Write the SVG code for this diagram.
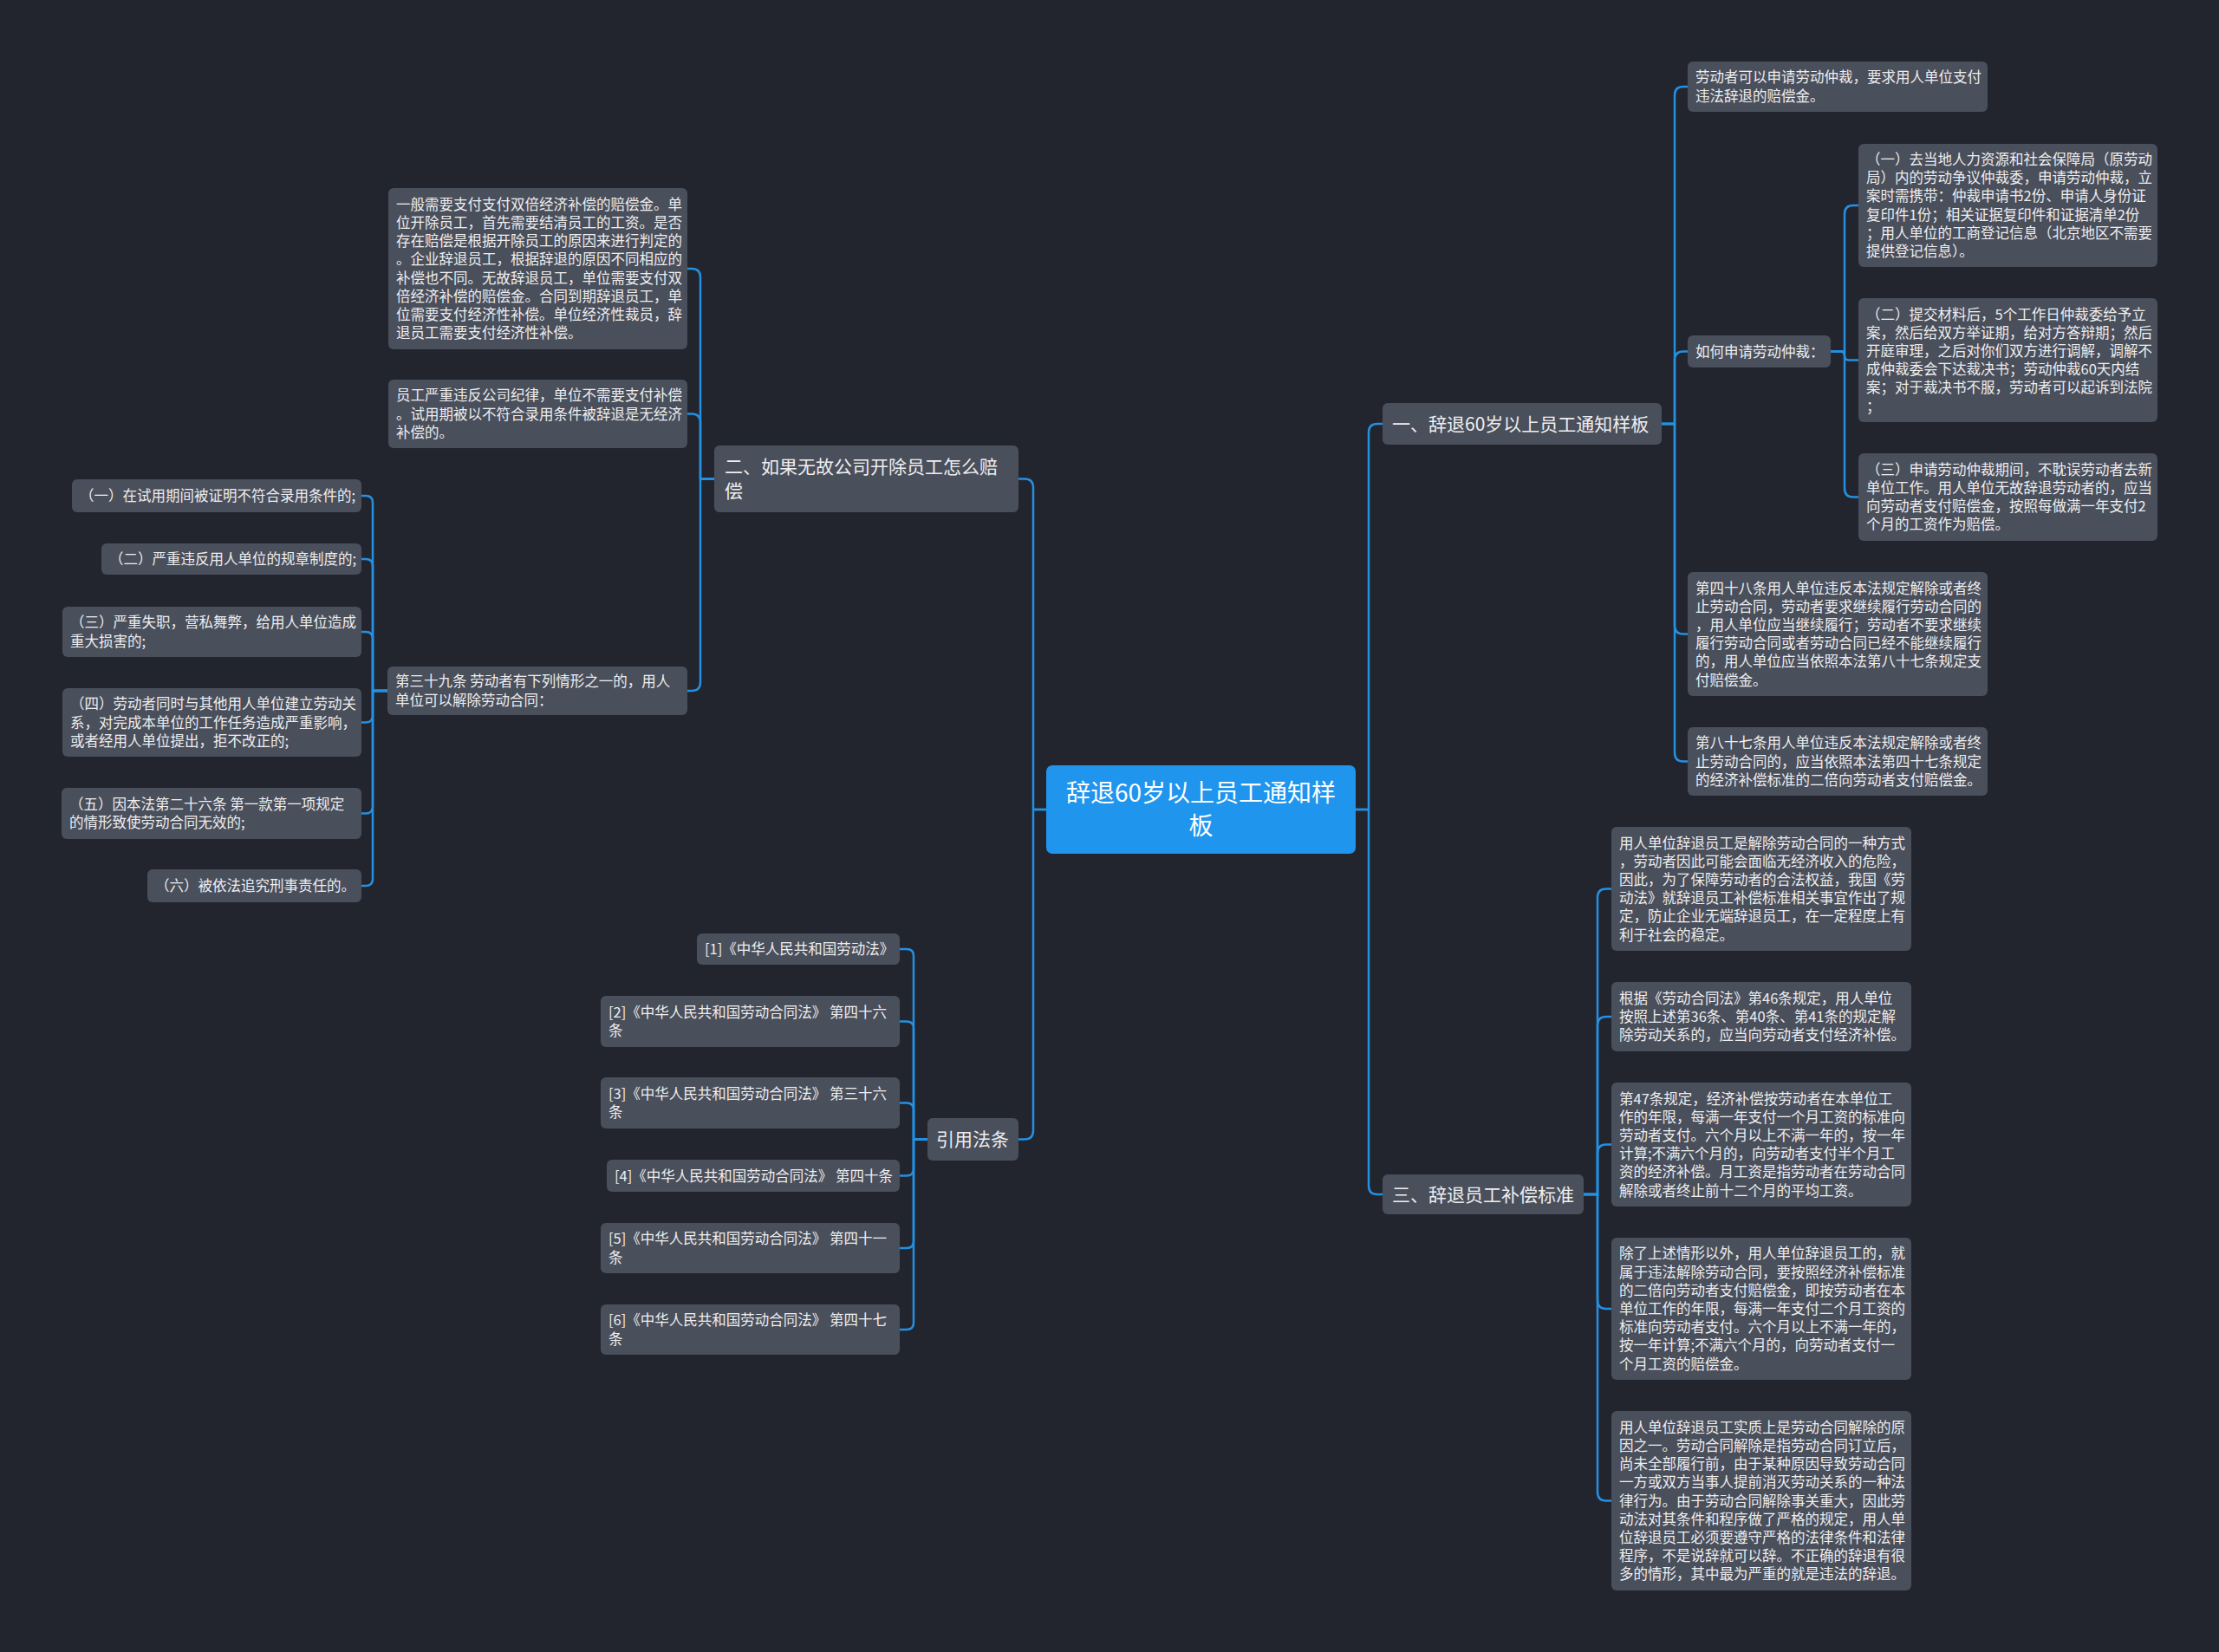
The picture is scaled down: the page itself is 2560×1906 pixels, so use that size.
<svg xmlns="http://www.w3.org/2000/svg" width="2560" height="1906" viewBox="0 0 2560 1906">
<style>
.bg{fill:#22252e}
.n{fill:#4a4f5c}
.c{fill:#1f95ee}
.t{fill:#eeeeee;font-family:"Noto Sans CJK SC","Noto Sans",sans-serif;font-size:16.5px}
.b{fill:#eeeeee;font-family:"Noto Sans CJK SC","Noto Sans",sans-serif;font-size:21px}
.ct{fill:#ffffff;font-family:"Noto Sans CJK SC","Noto Sans",sans-serif;font-size:28px;text-anchor:middle}
.ln{fill:none;stroke:#2490e2;stroke-width:2.5;stroke-linecap:round;stroke-linejoin:round}
</style>
<rect class="bg" x="0" y="0" width="2560" height="1906"/>
<g id="connectors" class="ln">
<path d="M1564,934 H1579 V499 Q1579,489 1589,489 H1595"/>
<path d="M1564,934 H1579 V1368 Q1579,1378 1589,1378 H1595"/>
<path d="M1207,934 H1192 V562.5 Q1192,552.5 1182,552.5 H1175"/>
<path d="M1207,934 H1192 V1304.5 Q1192,1314.5 1182,1314.5 H1175"/>
<path d="M1917,489 H1932 V110 Q1932,100 1942,100 H1947"/>
<path d="M1917,489 H1932 V415.5 Q1932,405.5 1942,405.5 H1947"/>
<path d="M1917,489 H1932 V721.5 Q1932,731.5 1942,731.5 H1947"/>
<path d="M1917,489 H1932 V868.5 Q1932,878.5 1942,878.5 H1947"/>
<path d="M2112,405.5 H2128 V247 Q2128,237 2138,237 H2144"/>
<path d="M2112,405.5 H2123 Q2128,405.5 2128,410.5 Q2128,415.5 2133,415.5 H2144"/>
<path d="M2112,405.5 H2128 V563.5 Q2128,573.5 2138,573.5 H2144"/>
<path d="M1827,1378 H1843 V1035.5 Q1843,1025.5 1853,1025.5 H1859"/>
<path d="M1827,1378 H1843 V1183 Q1843,1173 1853,1173 H1859"/>
<path d="M1827,1378 H1843 V1330.5 Q1843,1320.5 1853,1320.5 H1859"/>
<path d="M1827,1378 H1843 V1500 Q1843,1510 1853,1510 H1859"/>
<path d="M1827,1378 H1843 V1721.5 Q1843,1731.5 1853,1731.5 H1859"/>
<path d="M824,552.5 H808 V320 Q808,310 798,310 H793"/>
<path d="M824,552.5 H808 V487.5 Q808,477.5 798,477.5 H793"/>
<path d="M824,552.5 H808 V787 Q808,797 798,797 H793"/>
<path d="M447,797 H430 V580 Q430,572 422,572 H417"/>
<path d="M447,797 H430 V653 Q430,645 422,645 H417"/>
<path d="M447,797 H430 V737 Q430,729 422,729 H417"/>
<path d="M447,797 H430 V825.5 Q430,833.5 422,833.5 H417"/>
<path d="M447,797 H430 V930.5 Q430,938.5 422,938.5 H417"/>
<path d="M447,797 H430 V1014 Q430,1022 422,1022 H417"/>
<path d="M1070,1314.5 H1054 V1103 Q1054,1095 1046,1095 H1038"/>
<path d="M1070,1314.5 H1054 V1186.5 Q1054,1178.5 1046,1178.5 H1038"/>
<path d="M1070,1314.5 H1054 V1280.5 Q1054,1272.5 1046,1272.5 H1038"/>
<path d="M1070,1314.5 H1054 V1348.5 Q1054,1356.5 1046,1356.5 H1038"/>
<path d="M1070,1314.5 H1054 V1432 Q1054,1440 1046,1440 H1038"/>
<path d="M1070,1314.5 H1054 V1526 Q1054,1534 1046,1534 H1038"/>
</g>
<g id="center">
<rect class="c" x="1207" y="883" width="357" height="102" rx="7"/>
<text class="ct" x="1385.5" y="925">辞退60岁以上员工通知样</text>
<text class="ct" x="1385.5" y="963">板</text>
</g>
<g id="branch1">
<rect class="n" x="1595" y="465" width="322" height="48" rx="6"/>
<text class="b" x="1606" y="496.5">一、辞退60岁以上员工通知样板</text>
</g>
<g id="a1">
<rect class="n" x="1947" y="71" width="346" height="58" rx="6"/>
<text class="t" x="1956"><tspan x="1956" y="95.4">劳动者可以申请劳动仲裁，要求用人单位支付</tspan><tspan x="1956" y="116.6">违法辞退的赔偿金。</tspan></text>
</g>
<g id="a2">
<rect class="n" x="1947" y="387" width="165" height="37" rx="6"/>
<text class="t" x="1956" y="411.5">如何申请劳动仲裁：</text>
</g>
<g id="a2-1">
<rect class="n" x="2144" y="166" width="345" height="142" rx="6"/>
<text class="t"><tspan x="2153" y="190">（一）去当地人力资源和社会保障局（原劳动</tspan><tspan x="2153" y="211.2">局）内的劳动争议仲裁委，申请劳动仲裁，立</tspan><tspan x="2153" y="232.4">案时需携带：仲裁申请书2份、申请人身份证</tspan><tspan x="2153" y="253.6">复印件1份；相关证据复印件和证据清单2份</tspan><tspan x="2153" y="274.8">；用人单位的工商登记信息（北京地区不需要</tspan><tspan x="2153" y="296">提供登记信息）。</tspan></text>
</g>
<g id="a2-2">
<rect class="n" x="2144" y="344" width="345" height="143" rx="6"/>
<text class="t"><tspan x="2153" y="368.5">（二）提交材料后，5个工作日仲裁委给予立</tspan><tspan x="2153" y="389.7">案，然后给双方举证期，给对方答辩期；然后</tspan><tspan x="2153" y="410.9">开庭审理，之后对你们双方进行调解，调解不</tspan><tspan x="2153" y="432.1">成仲裁委会下达裁决书；劳动仲裁60天内结</tspan><tspan x="2153" y="453.3">案；对于裁决书不服，劳动者可以起诉到法院</tspan><tspan x="2153" y="474.5">；</tspan></text>
</g>
<g id="a2-3">
<rect class="n" x="2144" y="523" width="345" height="101" rx="6"/>
<text class="t"><tspan x="2153" y="547.7">（三）申请劳动仲裁期间，不耽误劳动者去新</tspan><tspan x="2153" y="568.9">单位工作。用人单位无故辞退劳动者的，应当</tspan><tspan x="2153" y="590.1">向劳动者支付赔偿金，按照每做满一年支付2</tspan><tspan x="2153" y="611.3">个月的工资作为赔偿。</tspan></text>
</g>
<g id="a3">
<rect class="n" x="1947" y="660" width="346" height="143" rx="6"/>
<text class="t"><tspan x="1956" y="684.5">第四十八条用人单位违反本法规定解除或者终</tspan><tspan x="1956" y="705.7">止劳动合同，劳动者要求继续履行劳动合同的</tspan><tspan x="1956" y="726.9">，用人单位应当继续履行；劳动者不要求继续</tspan><tspan x="1956" y="748.1">履行劳动合同或者劳动合同已经不能继续履行</tspan><tspan x="1956" y="769.3">的，用人单位应当依照本法第八十七条规定支</tspan><tspan x="1956" y="790.5">付赔偿金。</tspan></text>
</g>
<g id="a4">
<rect class="n" x="1947" y="839" width="346" height="79" rx="6"/>
<text class="t"><tspan x="1956" y="863.3">第八十七条用人单位违反本法规定解除或者终</tspan><tspan x="1956" y="884.5">止劳动合同的，应当依照本法第四十七条规定</tspan><tspan x="1956" y="905.7">的经济补偿标准的二倍向劳动者支付赔偿金。</tspan></text>
</g>
<g id="branch3">
<rect class="n" x="1595" y="1355" width="232" height="46" rx="6"/>
<text class="b" x="1606" y="1385.5">三、辞退员工补偿标准</text>
</g>
<g id="d1">
<rect class="n" x="1859" y="954" width="346" height="143" rx="6"/>
<text class="t"><tspan x="1868" y="978.5">用人单位辞退员工是解除劳动合同的一种方式</tspan><tspan x="1868" y="999.7">，劳动者因此可能会面临无经济收入的危险，</tspan><tspan x="1868" y="1020.9">因此，为了保障劳动者的合法权益，我国《劳</tspan><tspan x="1868" y="1042.1">动法》就辞退员工补偿标准相关事宜作出了规</tspan><tspan x="1868" y="1063.3">定，防止企业无端辞退员工，在一定程度上有</tspan><tspan x="1868" y="1084.5">利于社会的稳定。</tspan></text>
</g>
<g id="d2">
<rect class="n" x="1859" y="1133" width="346" height="80" rx="6"/>
<text class="t"><tspan x="1868" y="1157.8">根据《劳动合同法》第46条规定，用人单位</tspan><tspan x="1868" y="1179">按照上述第36条、第40条、第41条的规定解</tspan><tspan x="1868" y="1200.2">除劳动关系的，应当向劳动者支付经济补偿。</tspan></text>
</g>
<g id="d3">
<rect class="n" x="1859" y="1249" width="346" height="143" rx="6"/>
<text class="t"><tspan x="1868" y="1273.5">第47条规定，经济补偿按劳动者在本单位工</tspan><tspan x="1868" y="1294.7">作的年限，每满一年支付一个月工资的标准向</tspan><tspan x="1868" y="1315.9">劳动者支付。六个月以上不满一年的，按一年</tspan><tspan x="1868" y="1337.1">计算;不满六个月的，向劳动者支付半个月工</tspan><tspan x="1868" y="1358.3">资的经济补偿。月工资是指劳动者在劳动合同</tspan><tspan x="1868" y="1379.5">解除或者终止前十二个月的平均工资。</tspan></text>
</g>
<g id="d4">
<rect class="n" x="1859" y="1428" width="346" height="164" rx="6"/>
<text class="t"><tspan x="1868" y="1452.4">除了上述情形以外，用人单位辞退员工的，就</tspan><tspan x="1868" y="1473.6">属于违法解除劳动合同，要按照经济补偿标准</tspan><tspan x="1868" y="1494.8">的二倍向劳动者支付赔偿金，即按劳动者在本</tspan><tspan x="1868" y="1516">单位工作的年限，每满一年支付二个月工资的</tspan><tspan x="1868" y="1537.2">标准向劳动者支付。六个月以上不满一年的，</tspan><tspan x="1868" y="1558.4">按一年计算;不满六个月的，向劳动者支付一</tspan><tspan x="1868" y="1579.6">个月工资的赔偿金。</tspan></text>
</g>
<g id="d5">
<rect class="n" x="1859" y="1628" width="346" height="207" rx="6"/>
<text class="t"><tspan x="1868" y="1652.7">用人单位辞退员工实质上是劳动合同解除的原</tspan><tspan x="1868" y="1673.9">因之一。劳动合同解除是指劳动合同订立后，</tspan><tspan x="1868" y="1695.1">尚未全部履行前，由于某种原因导致劳动合同</tspan><tspan x="1868" y="1716.3">一方或双方当事人提前消灭劳动关系的一种法</tspan><tspan x="1868" y="1737.5">律行为。由于劳动合同解除事关重大，因此劳</tspan><tspan x="1868" y="1758.7">动法对其条件和程序做了严格的规定，用人单</tspan><tspan x="1868" y="1779.9">位辞退员工必须要遵守严格的法律条件和法律</tspan><tspan x="1868" y="1801.1">程序，不是说辞就可以辞。不正确的辞退有很</tspan><tspan x="1868" y="1822.3">多的情形，其中最为严重的就是违法的辞退。</tspan></text>
</g>
<g id="branch2">
<rect class="n" x="824" y="514" width="351" height="77" rx="6"/>
<text class="b"><tspan x="836" y="546">二、如果无故公司开除员工怎么赔</tspan><tspan x="836" y="574">偿</tspan></text>
</g>
<g id="b1">
<rect class="n" x="448" y="217" width="345" height="186" rx="6"/>
<text class="t"><tspan x="457" y="241.8">一般需要支付支付双倍经济补偿的赔偿金。单</tspan><tspan x="457" y="263">位开除员工，首先需要结清员工的工资。是否</tspan><tspan x="457" y="284.2">存在赔偿是根据开除员工的原因来进行判定的</tspan><tspan x="457" y="305.4">。企业辞退员工，根据辞退的原因不同相应的</tspan><tspan x="457" y="326.6">补偿也不同。无故辞退员工，单位需要支付双</tspan><tspan x="457" y="347.8">倍经济补偿的赔偿金。合同到期辞退员工，单</tspan><tspan x="457" y="369">位需要支付经济性补偿。单位经济性裁员，辞</tspan><tspan x="457" y="390.2">退员工需要支付经济性补偿。</tspan></text>
</g>
<g id="b2">
<rect class="n" x="448" y="438" width="345" height="79" rx="6"/>
<text class="t"><tspan x="457" y="462.3">员工严重违反公司纪律，单位不需要支付补偿</tspan><tspan x="457" y="483.5">。试用期被以不符合录用条件被辞退是无经济</tspan><tspan x="457" y="504.7">补偿的。</tspan></text>
</g>
<g id="b3">
<rect class="n" x="447" y="769" width="346" height="56" rx="6"/>
<text class="t"><tspan x="456" y="792.4">第三十九条 劳动者有下列情形之一的，用人</tspan><tspan x="456" y="813.6">单位可以解除劳动合同：</tspan></text>
</g>
<g id="c1">
<rect class="n" x="83" y="553" width="334" height="38" rx="6"/>
<text class="t" x="92" y="578">（一）在试用期间被证明不符合录用条件的;</text>
</g>
<g id="c2">
<rect class="n" x="117" y="627" width="300" height="36" rx="6"/>
<text class="t" x="126" y="651">（二）严重违反用人单位的规章制度的;</text>
</g>
<g id="c3">
<rect class="n" x="72" y="700" width="345" height="58" rx="6"/>
<text class="t"><tspan x="81" y="724.4">（三）严重失职，营私舞弊，给用人单位造成</tspan><tspan x="81" y="745.6">重大损害的;</tspan></text>
</g>
<g id="c4">
<rect class="n" x="72" y="794" width="345" height="79" rx="6"/>
<text class="t"><tspan x="81" y="818.3">（四）劳动者同时与其他用人单位建立劳动关</tspan><tspan x="81" y="839.5">系，对完成本单位的工作任务造成严重影响，</tspan><tspan x="81" y="860.7">或者经用人单位提出，拒不改正的;</tspan></text>
</g>
<g id="c5">
<rect class="n" x="71" y="909" width="346" height="59" rx="6"/>
<text class="t"><tspan x="80" y="933.9">（五）因本法第二十六条 第一款第一项规定</tspan><tspan x="80" y="955.1">的情形致使劳动合同无效的;</tspan></text>
</g>
<g id="c6">
<rect class="n" x="170" y="1003" width="247" height="38" rx="6"/>
<text class="t" x="179" y="1028">（六）被依法追究刑事责任的。</text>
</g>
<g id="cite">
<rect class="n" x="1070" y="1290" width="105" height="49" rx="6"/>
<text class="b" x="1080" y="1322">引用法条</text>
</g>
<g id="r1">
<rect class="n" x="804" y="1077" width="234" height="36" rx="6"/>
<text class="t" x="813" y="1101">[1]《中华人民共和国劳动法》</text>
</g>
<g id="r2">
<rect class="n" x="693" y="1149" width="345" height="59" rx="6"/>
<text class="t"><tspan x="702" y="1173.9">[2]《中华人民共和国劳动合同法》 第四十六</tspan><tspan x="702" y="1195.1">条</tspan></text>
</g>
<g id="r3">
<rect class="n" x="693" y="1243" width="345" height="59" rx="6"/>
<text class="t"><tspan x="702" y="1267.9">[3]《中华人民共和国劳动合同法》 第三十六</tspan><tspan x="702" y="1289.1">条</tspan></text>
</g>
<g id="r4">
<rect class="n" x="700" y="1338" width="338" height="37" rx="6"/>
<text class="t" x="709" y="1362.5">[4]《中华人民共和国劳动合同法》 第四十条</text>
</g>
<g id="r5">
<rect class="n" x="693" y="1411" width="345" height="58" rx="6"/>
<text class="t"><tspan x="702" y="1435.4">[5]《中华人民共和国劳动合同法》 第四十一</tspan><tspan x="702" y="1456.6">条</tspan></text>
</g>
<g id="r6">
<rect class="n" x="693" y="1505" width="345" height="58" rx="6"/>
<text class="t"><tspan x="702" y="1529.4">[6]《中华人民共和国劳动合同法》 第四十七</tspan><tspan x="702" y="1550.6">条</tspan></text>
</g>
</svg>
